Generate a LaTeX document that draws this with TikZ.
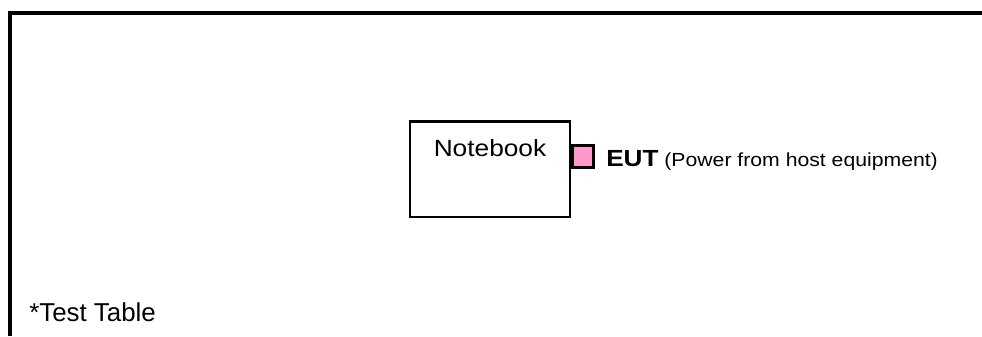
\documentclass[tikz,border=0pt]{standalone}
\usepackage{fontspec}
\setmainfont{Liberation Sans}
\newfontfamily\widefont[FakeStretch=1.12]{Liberation Sans}
\definecolor{eutpink}{RGB}{255,153,204}
\tikzset{
    nbbox/.style={draw, line width=2.1pt, minimum width=120pt, minimum height=71.6pt, inner sep=0pt},
    eutbox/.style={draw, line width=2.1pt, fill=eutpink, minimum width=16.3pt, minimum height=17pt, inner sep=0pt}
}
\begin{document}
\begin{tikzpicture}[x=0.75pt, y=-0.75pt]
    \useasboundingbox (0,0) rectangle (982,336);

    % Table edge - top and left side only
    \draw[line width=2.6pt] (10,336) -- (10,13) -- (982,13);

    % Notebook - box with label near the top
    \node[nbbox] (notebook) at (490,169.25) {};
    \node[anchor=base, inner sep=0pt] (nblabel) at (490,156.7) {\widefont\fontsize{17.6pt}{20pt}\selectfont Notebook};

    % EUT plugged into the notebook
    \node[eutbox] (eut) at (583,156.5) {};
    \node[anchor=base west, inner sep=0pt] (eutlabel) at (606,166)
        {\widefont\fontsize{17.5pt}{20pt}\selectfont\bfseries EUT\fontsize{14.2pt}{17pt}\mdseries\selectfont{} (Power from host equipment)};

    % Label
    \node[anchor=base west, inner sep=0pt] (tablelabel) at (29,321) {\fontsize{19.4pt}{22pt}\selectfont *Test Table};

\end{tikzpicture}
\end{document}
